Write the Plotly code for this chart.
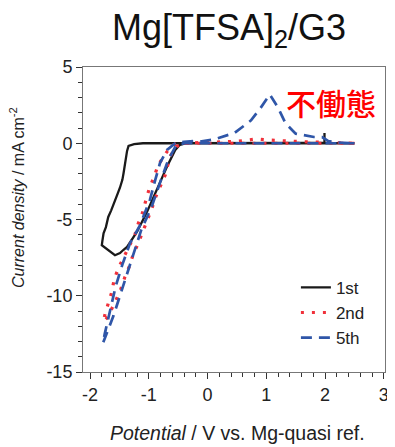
import plotly.graph_objects as go

# ---- data ----
# 1st cycle (black, solid)
x_1st = [2.5, 2.2, 2.0, 1.99, 1.99, 1.99, 1.5, 1.0, 0.5, 0.0, -0.2, -0.36, -0.47, -0.55, -0.69, -0.86,
         -1.03, -1.2, -1.32, -1.37, -1.435, -1.49, -1.576, -1.655, -1.72, -1.80, -1.79, -1.77, -1.73,
         -1.69, -1.64, -1.58, -1.53, -1.49, -1.45, -1.43, -1.40, -1.37, -1.345, -1.3, -1.25, -1.1,
         -0.8, -0.4, 0.0, 0.5, 1.0, 1.5, 2.0, 2.5]
y_1st = [0.0, 0.0, 0.02, 0.0, 0.68, 0.02, 0.02, 0.02, 0.0, 0.0, 0.0, 0.0, -0.1, -0.44, -1.53, -3.06,
         -4.5, -5.8, -6.56, -6.8, -7.0, -7.2, -7.34, -7.1, -6.9, -6.69, -6.4, -5.9, -5.5,
         -4.83, -4.4, -3.74, -3.3, -2.9, -2.4, -1.97, -1.2, -0.5, -0.17, -0.1, -0.06, 0.0,
         0.0, 0.0, 0.0, 0.0, 0.0, 0.0, 0.0, 0.0]

# 2nd cycle (red, dotted)
x_2nd = [2.5, 2.0, 1.5, 1.0, 0.5, 0.0, -0.41, -0.53, -0.64, -0.72, -0.81, -0.88, -0.954, -1.03,
         -1.10, -1.18, -1.27, -1.33, -1.41, -1.48, -1.56, -1.63, -1.70, -1.77, -1.75, -1.69,
         -1.63, -1.59, -1.52, -1.41, -1.24, -1.18, -1.107, -1.05, -0.99, -0.91, -0.84, -0.69,
         -0.58, -0.47, -0.2, 0.0, 0.3, 0.5, 0.83, 1.0, 1.23, 1.5, 1.8, 2.2, 2.5]
y_2nd = [0.0, 0.0, 0.0, 0.0, 0.0, 0.0, 0.0, -0.22, -0.87, -2.08, -2.84, -3.5, -4.35, -5.1,
         -5.87, -6.56, -7.34, -8.07, -8.8, -9.6, -10.3, -10.9, -11.4, -11.7, -11.28, -10.5,
         -9.75, -8.94, -8.2, -7.34, -6.03, -5.27, -4.55, -3.74, -2.95, -2.2, -1.42, -0.55,
         -0.1, 0.0, 0.05, 0.05, 0.1, 0.12, 0.28, 0.22, 0.15, 0.12, 0.08, 0.05, 0.0]

# 5th cycle (blue, dashed)
x_5th = [2.5, 2.0, 1.5, 1.0, 0.5, 0.0, -0.38, -0.53, -0.67, -0.81, -0.95, -1.13, -1.25, -1.38,
         -1.48, -1.60, -1.70, -1.78, -1.75, -1.65, -1.565, -1.45, -1.32, -1.15, -1.01, -0.98,
         -0.89, -0.81, -0.69, -0.55, -0.4, -0.24, -0.1, 0.1, 0.46, 0.74, 0.9, 1.06, 1.19, 1.33,
         1.5, 1.81, 1.95, 2.05, 2.2, 2.5]
y_5th = [0.0, 0.0, 0.0, 0.0, 0.0, 0.0, 0.0, -0.1, -1.1, -2.6, -4.15, -5.7, -7.15, -8.6,
         -9.97, -11.3, -12.3, -13.1, -12.5, -10.8, -9.4, -7.96, -6.56, -5.38, -3.96, -3.7,
         -2.4, -1.3, -0.44, 0.0, 0.1, 0.15, 0.12, 0.24, 0.68, 1.5, 2.3, 3.2, 2.4, 1.29,
         0.63, 0.41, 0.4, 0.15, 0.05, 0.0]

series_names = ["1st", "2nd", "5th"]
title_text = "Mg[TFSA]<sub>2</sub>/G3"
x_title = "<i>Potential</i> / V vs. Mg-quasi ref."
y_title = "<i>Current density</i> / mA cm<sup>-2</sup>"
note_text = "不働態"
x_ticks = [-2, -1, 0, 1, 2, 3]
x_ticklabels = ["-2", "-1", "0", "1", "2", "3"]
y_ticks = [-15, -10, -5, 0, 5]
y_ticklabels = ["-15", "-10", "-5", "0", "5"]

FONT = "Liberation Sans, Arial, sans-serif"

fig = go.Figure()
fig.add_trace(go.Scatter(x=x_1st, y=y_1st, mode="lines", name=series_names[0],
                         line=dict(color="#1a1a1a", width=2.3)))
fig.add_trace(go.Scatter(x=x_2nd, y=y_2nd, mode="lines", name=series_names[1],
                         line=dict(color="#f0303a", width=3.2, dash="3px,8px")))
fig.add_trace(go.Scatter(x=x_5th, y=y_5th, mode="lines", name=series_names[2],
                         line=dict(color="#2f56a8", width=2.7, dash="11px,7px")))

# page has an 8px body margin, so the figure is sized/placed to compensate
fig.update_layout(
    width=387, height=439,
    margin=dict(l=75, r=10, t=59, b=75),
    paper_bgcolor="white", plot_bgcolor="white",
    font=dict(family=FONT, color="#222", size=18),
    showlegend=True,
    legend=dict(x=0.705, y=0.335, xanchor="left", yanchor="top",
                bgcolor="rgba(0,0,0,0)", font=dict(size=17, color="#222"),
                tracegroupgap=0, itemwidth=30),
    xaxis=dict(range=[-2.12, 3.02], tickvals=x_ticks, ticktext=x_ticklabels,
               ticks="outside", ticklen=6, automargin=False,
               tickcolor="#333", showline=True, linecolor="#777", linewidth=1, mirror=True,
               showgrid=False, zeroline=False, tickfont=dict(size=18),
               minor=dict(dtick=0.2, ticks="outside", ticklen=4, tickcolor="#333")),
    yaxis=dict(range=[-15, 5], tickvals=y_ticks, ticktext=y_ticklabels,
               ticks="outside", ticklen=6, automargin=False,
               tickcolor="#333", showline=True, linecolor="#777", linewidth=1, mirror=True,
               showgrid=False, zeroline=False, tickfont=dict(size=18),
               minor=dict(dtick=1, ticks="outside", ticklen=4, tickcolor="#333")),
    annotations=[
        dict(text=title_text, xref="paper", yref="paper", x=0.485, y=1.121,
             xanchor="center", yanchor="middle", showarrow=False,
             font=dict(size=36, color="#111", family=FONT)),
        dict(text=x_title, xref="paper", yref="paper", x=0.51, y=-0.2,
             xanchor="center", yanchor="middle", showarrow=False,
             font=dict(size=19.5, color="#222", family=FONT)),
        dict(text=y_title, xref="paper", yref="paper", x=-0.2185, y=0.5705,
             xanchor="center", yanchor="middle", showarrow=False, textangle=-90,
             font=dict(size=16, color="#222", family=FONT)),
        dict(text=note_text, xref="paper", yref="paper", x=0.822, y=0.885,
             xanchor="center", yanchor="middle", showarrow=False,
             font=dict(size=30, color="#ff0000", family="Noto Sans CJK JP", weight=500)),
    ],
)

fig.write_html("out.html")
